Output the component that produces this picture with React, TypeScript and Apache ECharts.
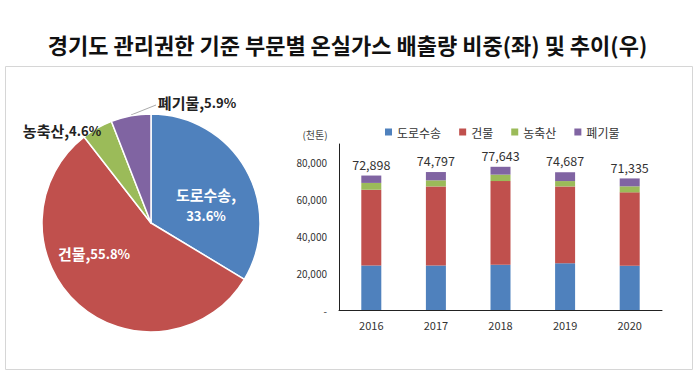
import React, { useEffect, useRef } from "react";
import * as echarts from "echarts";

const TITLE = "경기도 관리권한 기준 부문별 온실가스 배출량 비중(좌) 및 추이(우)";
const sectors = ["도로수송", "건물", "농축산", "폐기물"];
const colors = ["#4F81BD", "#C0504D", "#9BBB59", "#8064A2"];
const pieShares = [33.6, 55.8, 4.6, 5.9];
const years = ["2016", "2017", "2018", "2019", "2020"];
const roadTransport = [24100, 24100, 24500, 25400, 23969];
const buildings = [41100, 42900, 45400, 41600, 39805];
const agriculture = [3700, 3300, 3500, 2900, 3281];
const waste = [3998, 4497, 4243, 4787, 4280];
const totals = [72898, 74797, 77643, 74687, 71335];
const yTicks = [0, 20000, 40000, 60000, 80000];
const unitLabel = "(천톤)";

// label placement for the pie (x, y centre of each label)
const pieLabelLayout = [
  { x: 206, y: 205 },
  { x: 94, y: 253 },
  { x: 62, y: 130 },
  { x: 197, y: 102 },
];

const barSeriesValues = [roadTransport, buildings, agriculture, waste];

export default function App() {
  const ref = useRef<HTMLDivElement>(null);
  useEffect(() => {
    if (!ref.current) return;
    const chart = echarts.init(ref.current, null, { renderer: "svg" });
    const font = "'Noto Sans CJK KR', 'Noto Sans', sans-serif";
    const pieLabelColors = ["#ffffff", "#ffffff", "#222222", "#222222"];
    const option: any = {
      animation: false,
      backgroundColor: "#ffffff",
      textStyle: { fontFamily: font },
      title: {
        text: TITLE,
        left: "center",
        top: 28,
        textStyle: { fontFamily: font, fontSize: 22, fontWeight: "bold", color: "#111" },
      },
      graphic: [
        {
          type: "rect",
          shape: { x: 5.5, y: 66.5, width: 687, height: 303 },
          style: { fill: "none", stroke: "#d6d6d6", lineWidth: 1 },
          silent: true,
          z: -1,
        },
        {
          type: "line",
          shape: { x1: 131, y1: 115, x2: 156, y2: 105 },
          style: { stroke: "#aaaaaa", lineWidth: 1 },
          silent: true,
        },
        {
          type: "text",
          x: 315,
          y: 134,
          style: {
            text: unitLabel,
            fontFamily: font,
            fontSize: 10,
            fill: "#444",
            align: "center",
            verticalAlign: "middle",
          },
        },
      ],
      legend: {
        data: sectors,
        left: 380,
        top: 121,
        itemWidth: 7,
        itemHeight: 7,
        itemGap: 18,
        icon: "rect",
        textStyle: { fontFamily: font, fontSize: 12, color: "#333" },
      },
      grid: { left: 339, right: 33, top: 144, bottom: 67 },
      xAxis: {
        type: "category",
        data: years,
        axisLine: { lineStyle: { color: "#222", width: 1 } },
        axisTick: { show: false },
        axisLabel: { fontFamily: font, fontSize: 11, color: "#333", margin: 9 },
      },
      yAxis: {
        type: "value",
        min: 0,
        max: 90000,
        interval: 20000,
        axisLine: { show: true, lineStyle: { color: "#222", width: 1 } },
        axisTick: { show: false },
        splitLine: { show: false },
        axisLabel: {
          fontFamily: font,
          fontSize: 10,
          color: "#333",
          margin: 12,
          formatter: (v: number) =>
            v === 0 ? "-" : yTicks.includes(v) ? v.toLocaleString("en-US") : "",
        },
      },
      series: [
        ...sectors.map((name, i) => ({
          name,
          type: "bar",
          stack: "total",
          barWidth: 20,
          itemStyle: { color: colors[i] },
          data: barSeriesValues[i],
          label:
            i === sectors.length - 1
              ? {
                  show: true,
                  position: "top",
                  distance: 5,
                  fontFamily: font,
                  fontSize: 12.5,
                  color: "#333",
                  formatter: (p: any) => totals[p.dataIndex].toLocaleString("en-US"),
                }
              : { show: false },
        })),
        {
          name: "비중",
          type: "pie",
          center: [151, 223],
          radius: 109,
          startAngle: 90,
          clockwise: true,
          itemStyle: { borderColor: "#ffffff", borderWidth: 1.5 },
          data: sectors.map((name, i) => ({
            name,
            value: pieShares[i],
            itemStyle: { color: colors[i] },
            label: {
              position: i < 2 ? "inside" : "outside",
              color: pieLabelColors[i],
              rich: {
                n: { fontFamily: font, fontSize: 15, fontWeight: "bold", color: pieLabelColors[i], lineHeight: 21 },
                v: { fontFamily: font, fontSize: 13, fontWeight: "bold", color: pieLabelColors[i], lineHeight: 21 },
              },
            },
            labelLine: { show: false },
          })),
          label: {
            show: true,
            overflow: "none",
            width: 200,
            formatter: (p: any) =>
              p.dataIndex === 0
                ? `{n|${p.name},}\n{v|${p.value}%}`
                : `{n|${p.name},}{v|${p.value}%}`,
          },
          labelLayout: (p: any) => {
            const pos = pieLabelLayout[p.dataIndex];
            return { x: pos.x, y: pos.y, align: "center", verticalAlign: "middle" };
          },
        },
      ],
    };
    chart.setOption(option);
    return () => chart.dispose();
  }, []);
  return (
    <div
      ref={ref}
      style={{ position: "fixed", left: 0, top: 0, width: 695, height: 377 }}
    />
  );
}
